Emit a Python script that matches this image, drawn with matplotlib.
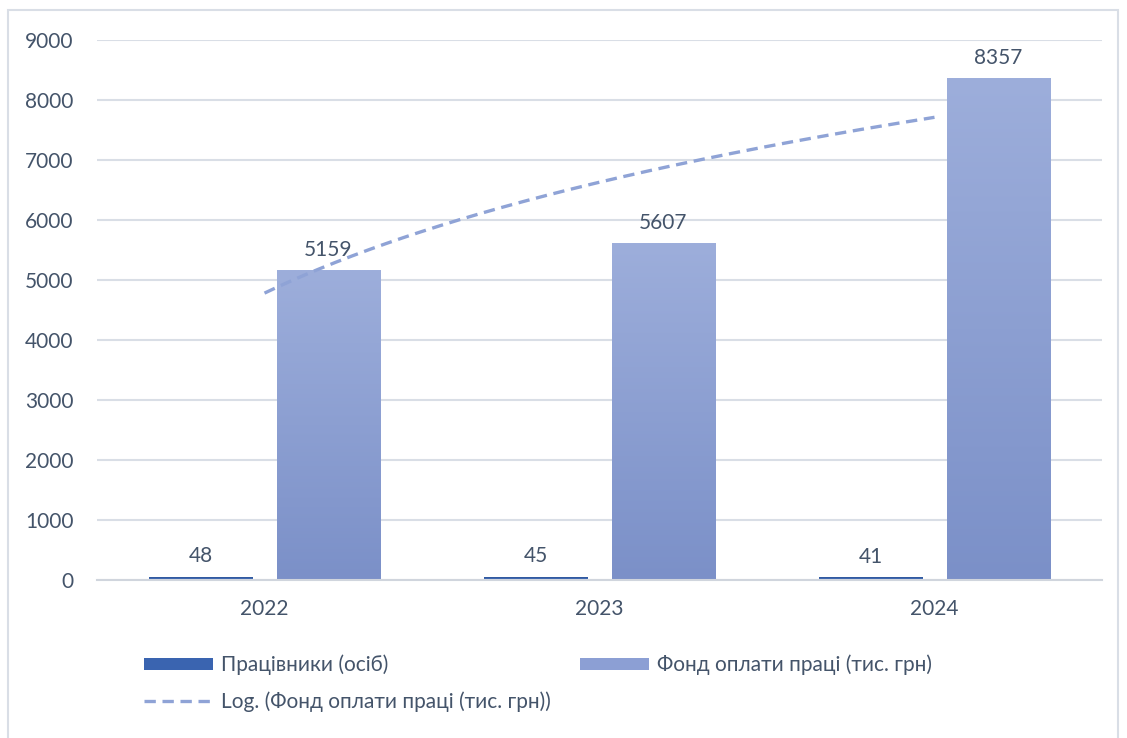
import numpy as np
import matplotlib
matplotlib.use('Agg')
import matplotlib.pyplot as plt
from matplotlib.colors import LinearSegmentedColormap
from matplotlib.patches import Rectangle, Patch
from matplotlib.lines import Line2D

plt.rcParams['font.family'] = ['Lato', 'Open Sans', 'DejaVu Sans']

years = ['2022', '2023', '2024']
workers = [48, 45, 41]
payroll = [5159, 5607, 8357]
lbl_workers = 'Працівники (осіб)'
lbl_payroll = 'Фонд оплати праці (тис. грн)'
lbl_trend = 'Log. (Фонд оплати праці (тис. грн))'

txt = '#44546A'
grid_c = '#D9DEE6'
cm_dark = LinearSegmentedColormap.from_list('d', ['#4472C4', '#2F5597'])
cm_light = LinearSegmentedColormap.from_list('l', ['#7B90C8', '#9DAEDB'])

fig = plt.figure(figsize=(11.27, 7.38), dpi=100)
ax = fig.add_axes([97/1127, 1 - 580/738, (1102-97)/1127, (580-40)/738])

x = np.arange(len(years))
w = 0.31
off = 0.191
grad = np.linspace(0, 1, 256).reshape(-1, 1)

def grad_bars(xs, vals, cmap):
    for xc, v in zip(xs, vals):
        ax.imshow(grad, extent=[xc - w/2, xc + w/2, 0, v], origin='lower',
                  aspect='auto', cmap=cmap, zorder=2, interpolation='bilinear')

grad_bars(x - off, workers, cm_dark)
grad_bars(x + off, payroll, cm_light)

for xc, v in zip(x - off, workers):
    ax.text(xc, v + 180, str(v), ha='center', va='bottom', fontsize=15, color=txt)
for xc, v in zip(x + off, payroll):
    ax.text(xc, v + 180, str(v), ha='center', va='bottom', fontsize=15, color=txt)

# logarithmic trend of the payroll series
b, a = np.polyfit(np.log(x + 1), payroll, 1)
xt = np.linspace(0, 2, 200)
ax.plot(xt, a + b * np.log(xt + 1), color='#8FA3D6', lw=2.4,
        dashes=(3.4, 2), zorder=3)

ax.set_xlim(-0.5, 2.5)
ax.set_ylim(0, 9000)
ax.set_yticks(np.arange(0, 9001, 1000))
ax.set_xticks(x)
ax.set_xticklabels(years)
ax.yaxis.grid(True, color=grid_c, lw=1.5)
ax.set_axisbelow(True)
for s in ['top', 'right', 'left']:
    ax.spines[s].set_visible(False)
ax.spines['bottom'].set_color('#D0D5DD')
ax.spines['bottom'].set_linewidth(1.5)
ax.tick_params(axis='both', length=0, labelsize=15, labelcolor=txt)
ax.tick_params(axis='y', pad=17)
ax.tick_params(axis='x', pad=14)

handles = [Patch(facecolor='#3A64B0', edgecolor='none'),
           Line2D([], [], color='#8FA3D6', lw=2.4, dashes=(3.4, 2)),
           Patch(facecolor='#8C9FD4', edgecolor='none')]
fig.legend(handles, [lbl_workers, lbl_trend, lbl_payroll], ncol=2,
           loc='upper left', bbox_to_anchor=(125/1127, 1 - 636/738),
           frameon=False, fontsize=15, labelcolor=txt, handlelength=3.3,
           handleheight=0.55, columnspacing=1.4, labelspacing=0.75,
           handletextpad=0.4)

fig.patches.append(Rectangle((8/1127, -0.01), (1118-8)/1127, 1 - 10/738 + 0.01,
                             transform=fig.transFigure, fill=False,
                             edgecolor='#D9DEE6', lw=1.5))

fig.savefig('out.png', dpi=100)
